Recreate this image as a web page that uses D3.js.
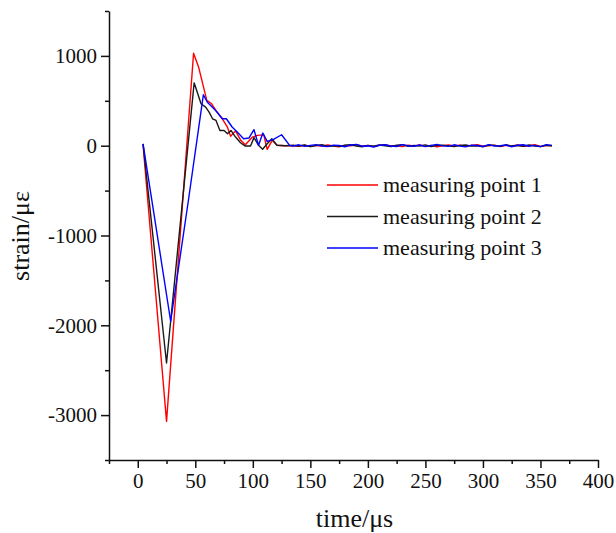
<!DOCTYPE html>
<html>
<head>
<meta charset="utf-8">
<script src="https://cdn.jsdelivr.net/npm/d3@7"></script>
<style>
  body { margin: 0; background: #fff; }
</style>
</head>
<body>
<main></main>
<script>
// strain records (time in μs, strain in με)
const seriesNames = ['measuring point 1', 'measuring point 2', 'measuring point 3'];
const seriesColors = ['#ff0000', '#1a1a1a', '#0000ff'];

const tailTimes = [135, 140, 145, 150, 155, 160, 165, 170, 175, 180, 185, 190, 195, 200,
  205, 210, 215, 220, 225, 230, 235, 240, 245, 250, 255, 260, 265, 270, 275, 280, 285,
  290, 295, 300, 305, 310, 315, 320, 325, 330, 335, 340, 345, 350, 355, 360];

const p1Times = [4.6, 25, 48.5, 53, 60, 64, 68, 73.5, 77.8, 80.7, 85, 89.5, 93.5, 99.5,
  104, 109.5, 112.5, 116.8, 121, 128];
const p1Values = [10, -3070, 1030, 870, 505, 470, 390, 300, 210, 105, 165, 60, 10, 95,
  115, 120, -40, 60, 5, 0];
const p1Tail = [0, -8, 5, -10, 3, -5, 8, -3, -12, 4, 0, 10, -6, 2, -9, 5, 12, -4, 0, -10,
  6, -2, 8, -7, 3, -12, 0, 9, -4, 5, -8, 2, 10, -5, -1, 7, -10, 4, -3, 8, -6, 0, 11, -9, 3, -2];

const p2Times = [4.6, 25, 49, 55, 59, 62, 65, 68, 71.4, 75, 78, 81, 85, 89.3, 93.5, 98,
  101, 105, 108.5, 112.5, 116.5, 121, 128];
const p2Values = [20, -2420, 700, 467, 430, 374, 300, 281, 170, 170, 133, 170, 96, 33, -4, -4,
  90, 4, -40, 22, 78, 5, 0];
const p2Tail = [5, -4, 8, -10, 2, 12, -6, 0, -8, 6, 10, -3, -12, 4, -5, 8, 0, -9, 5, 12,
  -7, 2, -4, 9, -11, 3, 6, -2, -10, 4, 8, -5, 0, -12, 7, 3, -8, 10, -4, 2, -6, 9, -3, -10, 5, 0];

const p3Times = [4.6, 28.6, 44, 57, 60.5, 67.7, 73.5, 77, 82, 86.4, 92, 96.6, 101, 105,
  108.7, 112.5, 118, 125, 132];
const p3Values = [20, -1955, -610, 567, 485, 392, 300, 300, 208, 152, 78, 85, 178, 4,
  141, 48, 70, 122, 4];
const p3Tail = [-5, 10, -8, 3, 12, -4, -10, 6, 2, -12, 8, 15, -6, 0, -14, 5, 10, -3, -9, 12,
  0, -6, 8, -11, 4, 14, -2, -8, 10, -5, -13, 6, 2, -9, 12, -4, 0, 8, -12, 5, 10, -6, 3, -10, 12, 4];

const xTicks = [0, 50, 100, 150, 200, 250, 300, 350, 400];
const yTicks = [-3000, -2000, -1000, 0, 1000];

const w = 616;
const h = 533;
const plotLeft = 109;
const plotRight = 598;
const plotTop = 11;
const plotBottom = 460;
const serif = '"Liberation Serif", "Times New Roman", serif';

function buildSeries(times, values, tail) {
  const pts = times.map((t, i) => [t, values[i]]);
  tailTimes.forEach((t, i) => pts.push([t, tail[i]]));
  return pts;
}

const series = [
  buildSeries(p1Times, p1Values, p1Tail),
  buildSeries(p2Times, p2Values, p2Tail),
  buildSeries(p3Times, p3Values, p3Tail),
];

const svg = d3.select('main').append('svg').attr('width', w).attr('height', h);

const x = d3.scaleLinear().domain([-25, 400]).range([plotLeft, plotRight]);
const y = d3.scaleLinear().domain([-3500, 1500]).range([plotBottom, plotTop]);
const fmt = (d) => String(d); // plain hyphen minus, no thousands comma

// minor ticks
const xMinor = d3.range(-25, 401, 50);
const yMinor = d3.range(-3500, 1501, 1000);

svg.append('g')
  .attr('transform', `translate(0,${plotBottom})`)
  .call(d3.axisBottom(x).tickValues(xMinor).tickSize(4).tickFormat('').tickSizeOuter(0))
  .call((g) => g.select('.domain').remove())
  .selectAll('line').attr('stroke', '#111').attr('stroke-width', 1.5);

svg.append('g')
  .attr('transform', `translate(${plotLeft},0)`)
  .call(d3.axisLeft(y).tickValues(yMinor).tickSize(4).tickFormat('').tickSizeOuter(0))
  .call((g) => g.select('.domain').remove())
  .selectAll('line').attr('stroke', '#111').attr('stroke-width', 1.5);

const xAxis = svg.append('g')
  .attr('transform', `translate(0,${plotBottom})`)
  .call(d3.axisBottom(x).tickValues(xTicks).tickFormat(fmt).tickSize(8).tickSizeOuter(0).tickPadding(5));
xAxis.select('.domain').attr('stroke', '#111').attr('stroke-width', 1.5);
xAxis.selectAll('line').attr('stroke', '#111').attr('stroke-width', 1.5);
xAxis.selectAll('text')
  .style('font-family', serif)
  .style('font-size', '21px')
  .attr('fill', '#111');

const yAxis = svg.append('g')
  .attr('transform', `translate(${plotLeft},0)`)
  .call(d3.axisLeft(y).tickValues(yTicks).tickFormat(fmt).tickSize(8).tickSizeOuter(0).tickPadding(4));
yAxis.select('.domain').attr('stroke', '#111').attr('stroke-width', 1.5);
yAxis.selectAll('line').attr('stroke', '#111').attr('stroke-width', 1.5);
yAxis.selectAll('text')
  .style('font-family', serif)
  .style('font-size', '21px')
  .attr('fill', '#111');

const line = d3.line().x((d) => x(d[0])).y((d) => y(d[1]));

svg.append('g')
  .selectAll('path')
  .data(series)
  .enter()
  .append('path')
  .attr('d', line)
  .attr('fill', 'none')
  .attr('stroke', (d, i) => seriesColors[i])
  .attr('stroke-width', 1.4)
  .attr('stroke-linejoin', 'round');

// legend
const legend = svg.append('g').attr('transform', 'translate(327,185)');
seriesNames.forEach((name, i) => {
  const row = legend.append('g').attr('transform', `translate(0,${i * 31.5})`);
  row.append('line')
    .attr('x1', 0).attr('x2', 51)
    .attr('stroke', seriesColors[i])
    .attr('stroke-width', 1.4);
  row.append('text')
    .attr('x', 56)
    .attr('y', 7)
    .style('font-family', serif)
    .style('font-size', '22px')
    .attr('fill', '#111')
    .text(name);
});

svg.append('text')
  .attr('x', (plotLeft + plotRight) / 2 + 1)
  .attr('y', 527)
  .attr('text-anchor', 'middle')
  .style('font-family', serif)
  .style('font-size', '26px')
  .attr('fill', '#111')
  .text('time/μs');

svg.append('text')
  .attr('transform', 'translate(29,236) rotate(-90)')
  .attr('text-anchor', 'middle')
  .style('font-family', serif)
  .style('font-size', '26px')
  .attr('fill', '#111')
  .text('strain/με');
</script>
</body>
</html>
